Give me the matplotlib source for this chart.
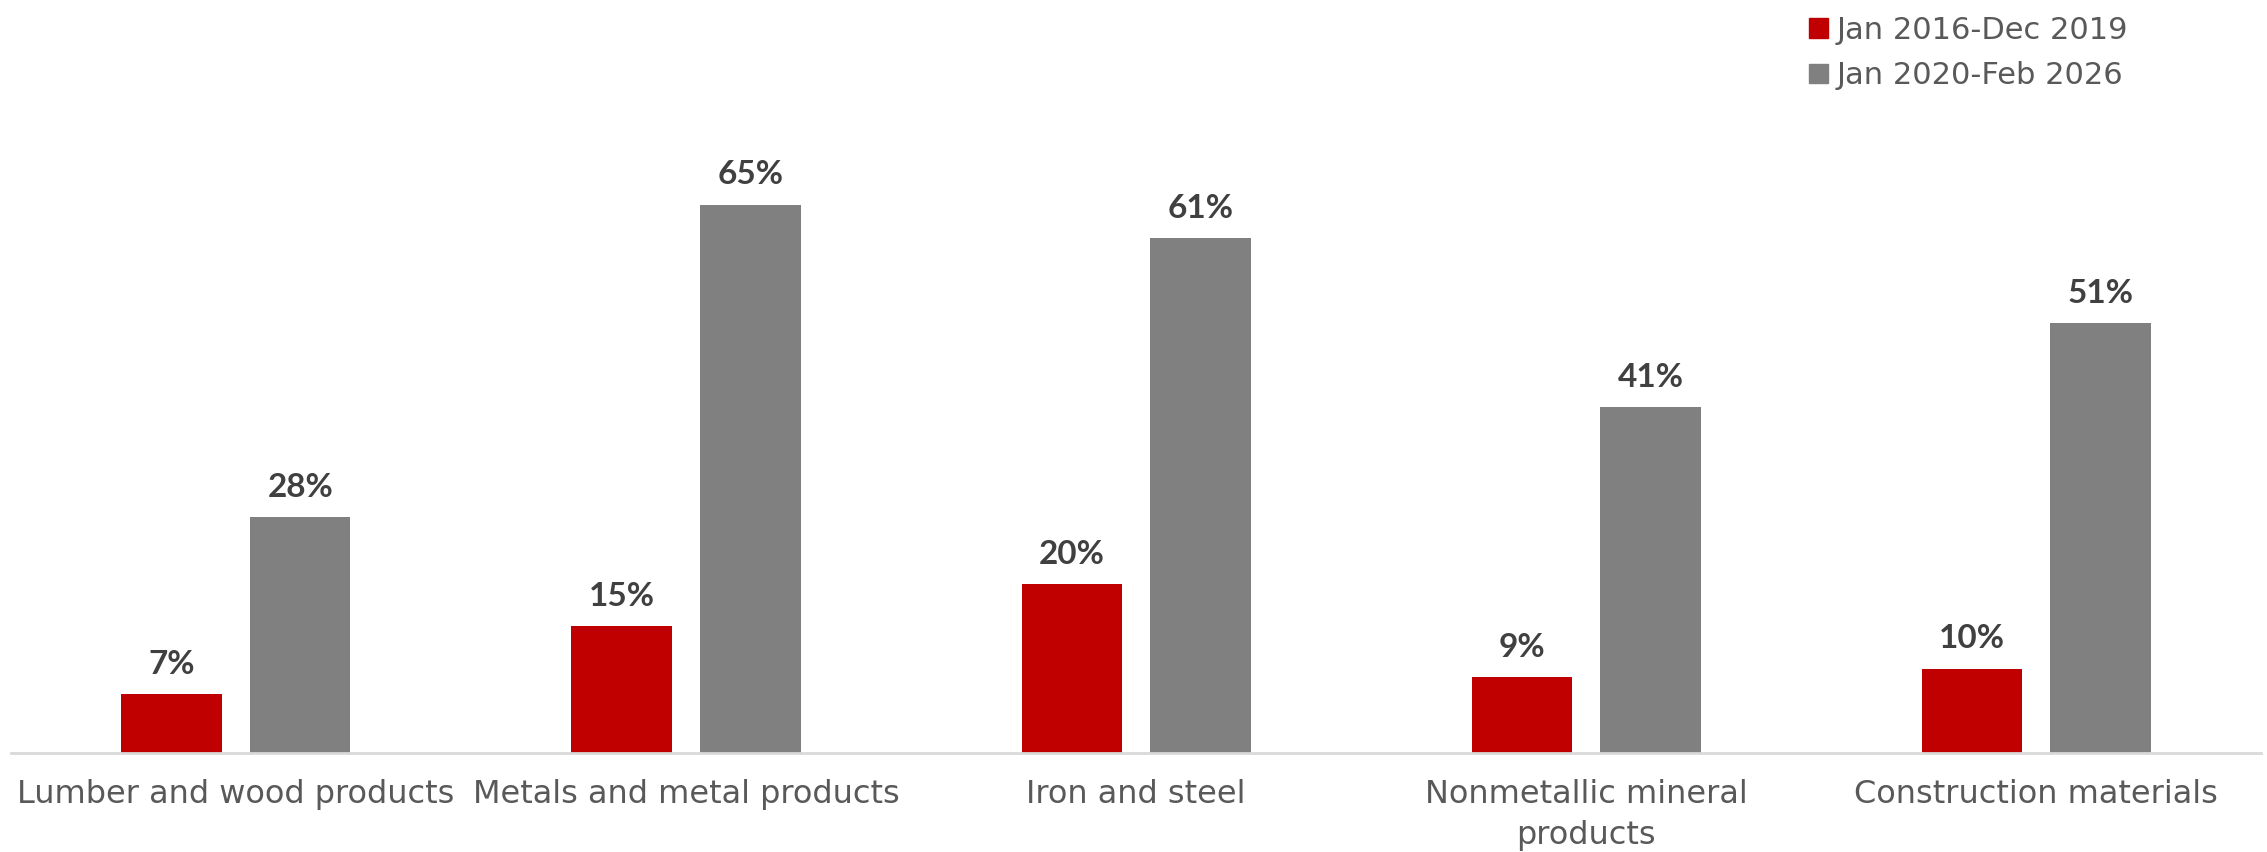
import numpy as np
import matplotlib.pyplot as plt
from matplotlib.patches import Patch

categories = ["Lumber and wood products", "Metals and metal products", "Iron and steel",
              "Nonmetallic mineral\nproducts", "Construction materials"]
series_names = ["Jan 2016-Dec 2019", "Jan 2020-Feb 2026"]
pre_2020 = [7, 15, 20, 9, 10]
post_2020 = [28, 65, 61, 41, 51]

RED = "#C00000"
GRAY = "#808080"
TEXT = "#595959"
LABEL = "#404040"
FONT = "DejaVu Sans"

fig = plt.figure(figsize=(22.67, 8.52), dpi=100)
ax = fig.add_axes([0.0048, 0.1162, 0.9927, 0.693])

x = np.arange(len(categories))
w = 0.223
off = 0.143
bars1 = ax.bar(x - off, pre_2020, w, color=RED)
bars2 = ax.bar(x + off, post_2020, w, color=GRAY)

for bars, vals in ((bars1, pre_2020), (bars2, post_2020)):
    for b, v in zip(bars, vals):
        ax.annotate(f"{v}%", (b.get_x() + b.get_width() / 2, v), xytext=(0, 11),
                    textcoords="offset points", ha="center", va="bottom",
                    fontsize=24, fontweight="bold", color=LABEL, family="Lato")

ax.set_xlim(-0.5, len(categories) - 0.5)
ax.set_ylim(0, 70)
ax.set_yticks([])
ax.set_xticks(x)
ax.set_xticklabels(categories, fontsize=23, color=TEXT, family=FONT, linespacing=1.4)
ax.tick_params(axis="x", length=0, pad=19)
for s in ("top", "right", "left"):
    ax.spines[s].set_visible(False)
ax.spines["bottom"].set_color("#D9D9D9")
ax.spines["bottom"].set_linewidth(2)

handles = [Patch(color=RED), Patch(color=GRAY)]
fig.legend(handles, series_names, loc="upper left", bbox_to_anchor=(0.786, 1.014),
           frameon=False, prop={"family": FONT, "size": 22}, labelcolor=TEXT,
           handlelength=0.6, handleheight=0.6, handletextpad=0.3, labelspacing=0.55)

fig.savefig("out.png", dpi=100)
